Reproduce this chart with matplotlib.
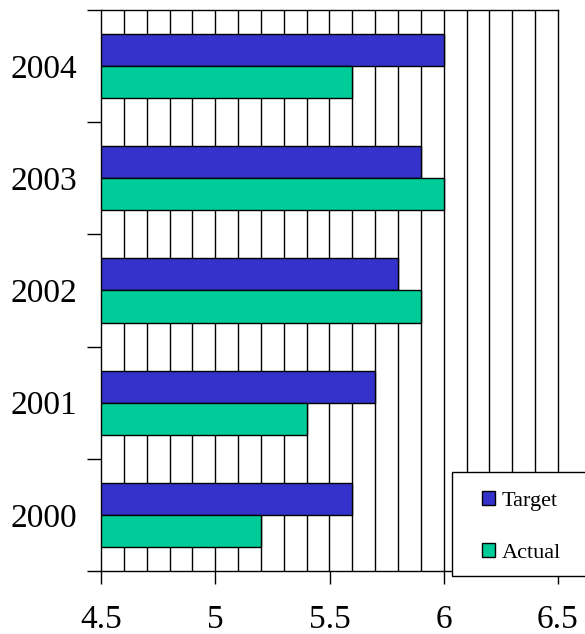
import matplotlib.pyplot as plt
from matplotlib.patches import Rectangle
import numpy as np

years = ["2000", "2001", "2002", "2003", "2004"]
target = [5.6, 5.7, 5.8, 5.9, 6.0]
actual = [5.2, 5.4, 5.9, 6.0, 5.6]
x_ticks = [4.5, 5, 5.5, 6, 6.5]
x_tick_labels = ["4.5", "5", "5.5", "6", "6.5"]


def main():
    plt.rcParams["font.family"] = ["Liberation Serif", "DejaVu Serif"]
    fig = plt.figure(figsize=(5.85, 6.34), dpi=100)
    ax = fig.add_axes([101 / 585, 1 - 571 / 634, 457 / 585, 561 / 634])

    pos = np.arange(len(years))
    h = 1 / 3.5
    base = 4.5
    ax.barh(pos + h / 2, np.array(target) - base, height=h, left=base,
            color="#3333cc", edgecolor="black", linewidth=1, label="Target",
            zorder=3)
    ax.barh(pos - h / 2, np.array(actual) - base, height=h, left=base,
            color="#00cc99", edgecolor="black", linewidth=1, label="Actual",
            zorder=3)

    ax.set_xlim(4.5, 6.5)
    ax.set_ylim(-0.5, len(years) - 0.5)

    # vertical grid every 0.1, behind the bars
    for gx in np.arange(4.6, 6.45, 0.1):
        ax.axvline(gx, color="black", linewidth=1, zorder=1)

    ax.set_xticks(x_ticks, x_tick_labels)
    ax.tick_params(axis="x", which="major", direction="out", length=9,
                   width=1, labelsize=24, pad=15)

    # year labels centred, tick marks between the groups
    ax.set_yticks(pos, years)
    ax.tick_params(axis="y", which="major", length=0, labelsize=24, pad=17)
    ax.set_yticks(np.arange(-0.5, len(years), 1.0), minor=True)
    ax.tick_params(axis="y", which="minor", direction="out", length=10,
                   width=1)

    for s in ax.spines.values():
        s.set_linewidth(1)
        s.set_color("black")

    # legend box runs off the right edge of the figure
    box = Rectangle((452 / 585, 1 - 576 / 634), 0.3, 104 / 634,
                    transform=fig.transFigure, facecolor="white",
                    edgecolor="black", linewidth=1, zorder=1)
    fig.patches.append(box)

    handles, labels = ax.get_legend_handles_labels()
    leg = fig.legend(handles, labels, loc="upper left",
                     bbox_to_anchor=(482 / 585, 1 - 491 / 634),
                     frameon=False, borderpad=0, borderaxespad=0,
                     fontsize=16, handlelength=0.6, handleheight=0.6,
                     handletextpad=0.3, labelspacing=1.45)
    leg.set_zorder(5)
    for patch in leg.get_patches():
        patch.set_edgecolor("black")

    fig.savefig("out.png", dpi=100)


if __name__ == "__main__":
    main()
